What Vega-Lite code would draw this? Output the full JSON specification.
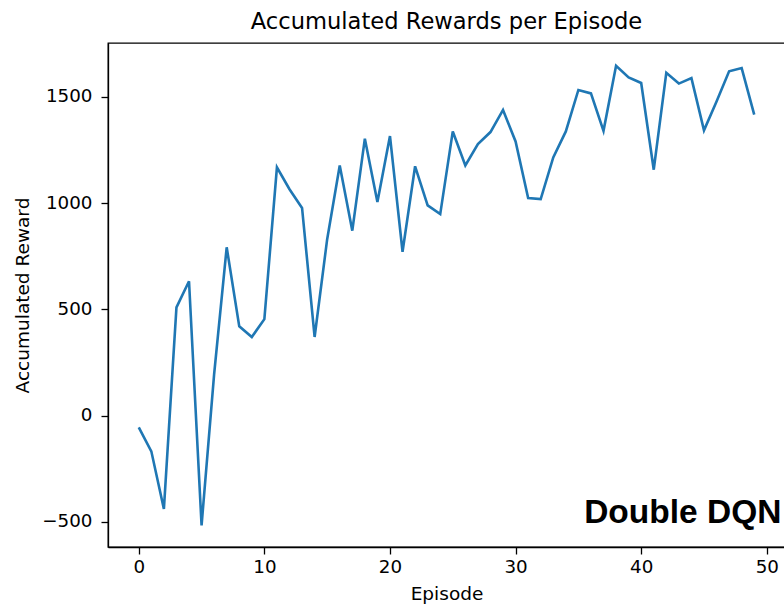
{
  "$schema": "https://vega.github.io/schema/vega-lite/v6.json",
  "autosize": "none",
  "width": 677,
  "height": 504,
  "padding": {"left": 108, "top": 43, "right": 0, "bottom": 59},
  "background": "white",
  "title": {
    "text": "Accumulated Rewards per Episode",
    "font": "DejaVu Sans",
    "fontSize": 22.6,
    "fontWeight": "normal",
    "color": "black",
    "anchor": "middle",
    "offset": 9
  },
  "config": {
    "view": {"stroke": "black", "strokeWidth": 1.3},
    "axis": {
      "domainColor": "black",
      "domainWidth": 1.3,
      "tickColor": "black",
      "tickWidth": 1.3,
      "tickSize": 7,
      "grid": false,
      "labelFont": "DejaVu Sans",
      "labelFontSize": 18.3,
      "labelColor": "black",
      "titleFont": "DejaVu Sans",
      "titleFontSize": 18.5,
      "titleFontWeight": "normal",
      "titleColor": "black"
    }
  },
  "datasets": {
    "rewards": [
      {"episode": 0, "reward": -55},
      {"episode": 1, "reward": -168},
      {"episode": 2, "reward": -439},
      {"episode": 3, "reward": 509},
      {"episode": 4, "reward": 632},
      {"episode": 5, "reward": -516},
      {"episode": 6, "reward": 195},
      {"episode": 7, "reward": 792},
      {"episode": 8, "reward": 420},
      {"episode": 9, "reward": 370},
      {"episode": 10, "reward": 454},
      {"episode": 11, "reward": 1168},
      {"episode": 12, "reward": 1065},
      {"episode": 13, "reward": 977},
      {"episode": 14, "reward": 370},
      {"episode": 15, "reward": 830},
      {"episode": 16, "reward": 1177},
      {"episode": 17, "reward": 870},
      {"episode": 18, "reward": 1303},
      {"episode": 19, "reward": 1005},
      {"episode": 20, "reward": 1315},
      {"episode": 21, "reward": 771},
      {"episode": 22, "reward": 1173},
      {"episode": 23, "reward": 989},
      {"episode": 24, "reward": 948},
      {"episode": 25, "reward": 1337},
      {"episode": 26, "reward": 1177},
      {"episode": 27, "reward": 1278},
      {"episode": 28, "reward": 1334},
      {"episode": 29, "reward": 1438},
      {"episode": 30, "reward": 1290},
      {"episode": 31, "reward": 1024},
      {"episode": 32, "reward": 1019},
      {"episode": 33, "reward": 1215},
      {"episode": 34, "reward": 1337},
      {"episode": 35, "reward": 1532},
      {"episode": 36, "reward": 1516},
      {"episode": 37, "reward": 1340},
      {"episode": 38, "reward": 1646},
      {"episode": 39, "reward": 1591},
      {"episode": 40, "reward": 1565},
      {"episode": 41, "reward": 1157},
      {"episode": 42, "reward": 1613},
      {"episode": 43, "reward": 1562},
      {"episode": 44, "reward": 1588},
      {"episode": 45, "reward": 1342},
      {"episode": 46, "reward": 1478},
      {"episode": 47, "reward": 1620},
      {"episode": 48, "reward": 1635},
      {"episode": 49, "reward": 1416}
    ],
    "note": [
      {"episode": 35.46, "reward": -503, "label": "Double DQN"}
    ]
  },
  "layer": [
    {
      "data": {"name": "rewards"},
      "mark": {"type": "line", "color": "#1f77b4", "strokeWidth": 2.6, "clip": true},
      "encoding": {
        "x": {
          "field": "episode",
          "type": "quantitative",
          "scale": {"domain": [-2.45, 51.45], "nice": false, "zero": false},
          "axis": {"values": [0, 10, 20, 30, 40, 50], "format": "d", "title": "Episode", "labelPadding": 4, "titlePadding": 9, "labelFlush": false}
        },
        "y": {
          "field": "reward",
          "type": "quantitative",
          "scale": {"domain": [-618, 1753], "nice": false, "zero": false},
          "axis": {"values": [-500, 0, 500, 1000, 1500], "format": "d", "title": "Accumulated Reward", "labelPadding": 9, "titlePadding": 9, "labelFlush": false}
        }
      }
    },
    {
      "data": {"name": "note"},
      "mark": {
        "type": "text",
        "font": "Liberation Sans",
        "fontWeight": "bold",
        "fontSize": 33.5,
        "align": "left",
        "baseline": "alphabetic",
        "color": "black",
        "clip": false
      },
      "encoding": {
        "x": {"field": "episode", "type": "quantitative"},
        "y": {"field": "reward", "type": "quantitative"},
        "text": {"field": "label"}
      }
    }
  ]
}
